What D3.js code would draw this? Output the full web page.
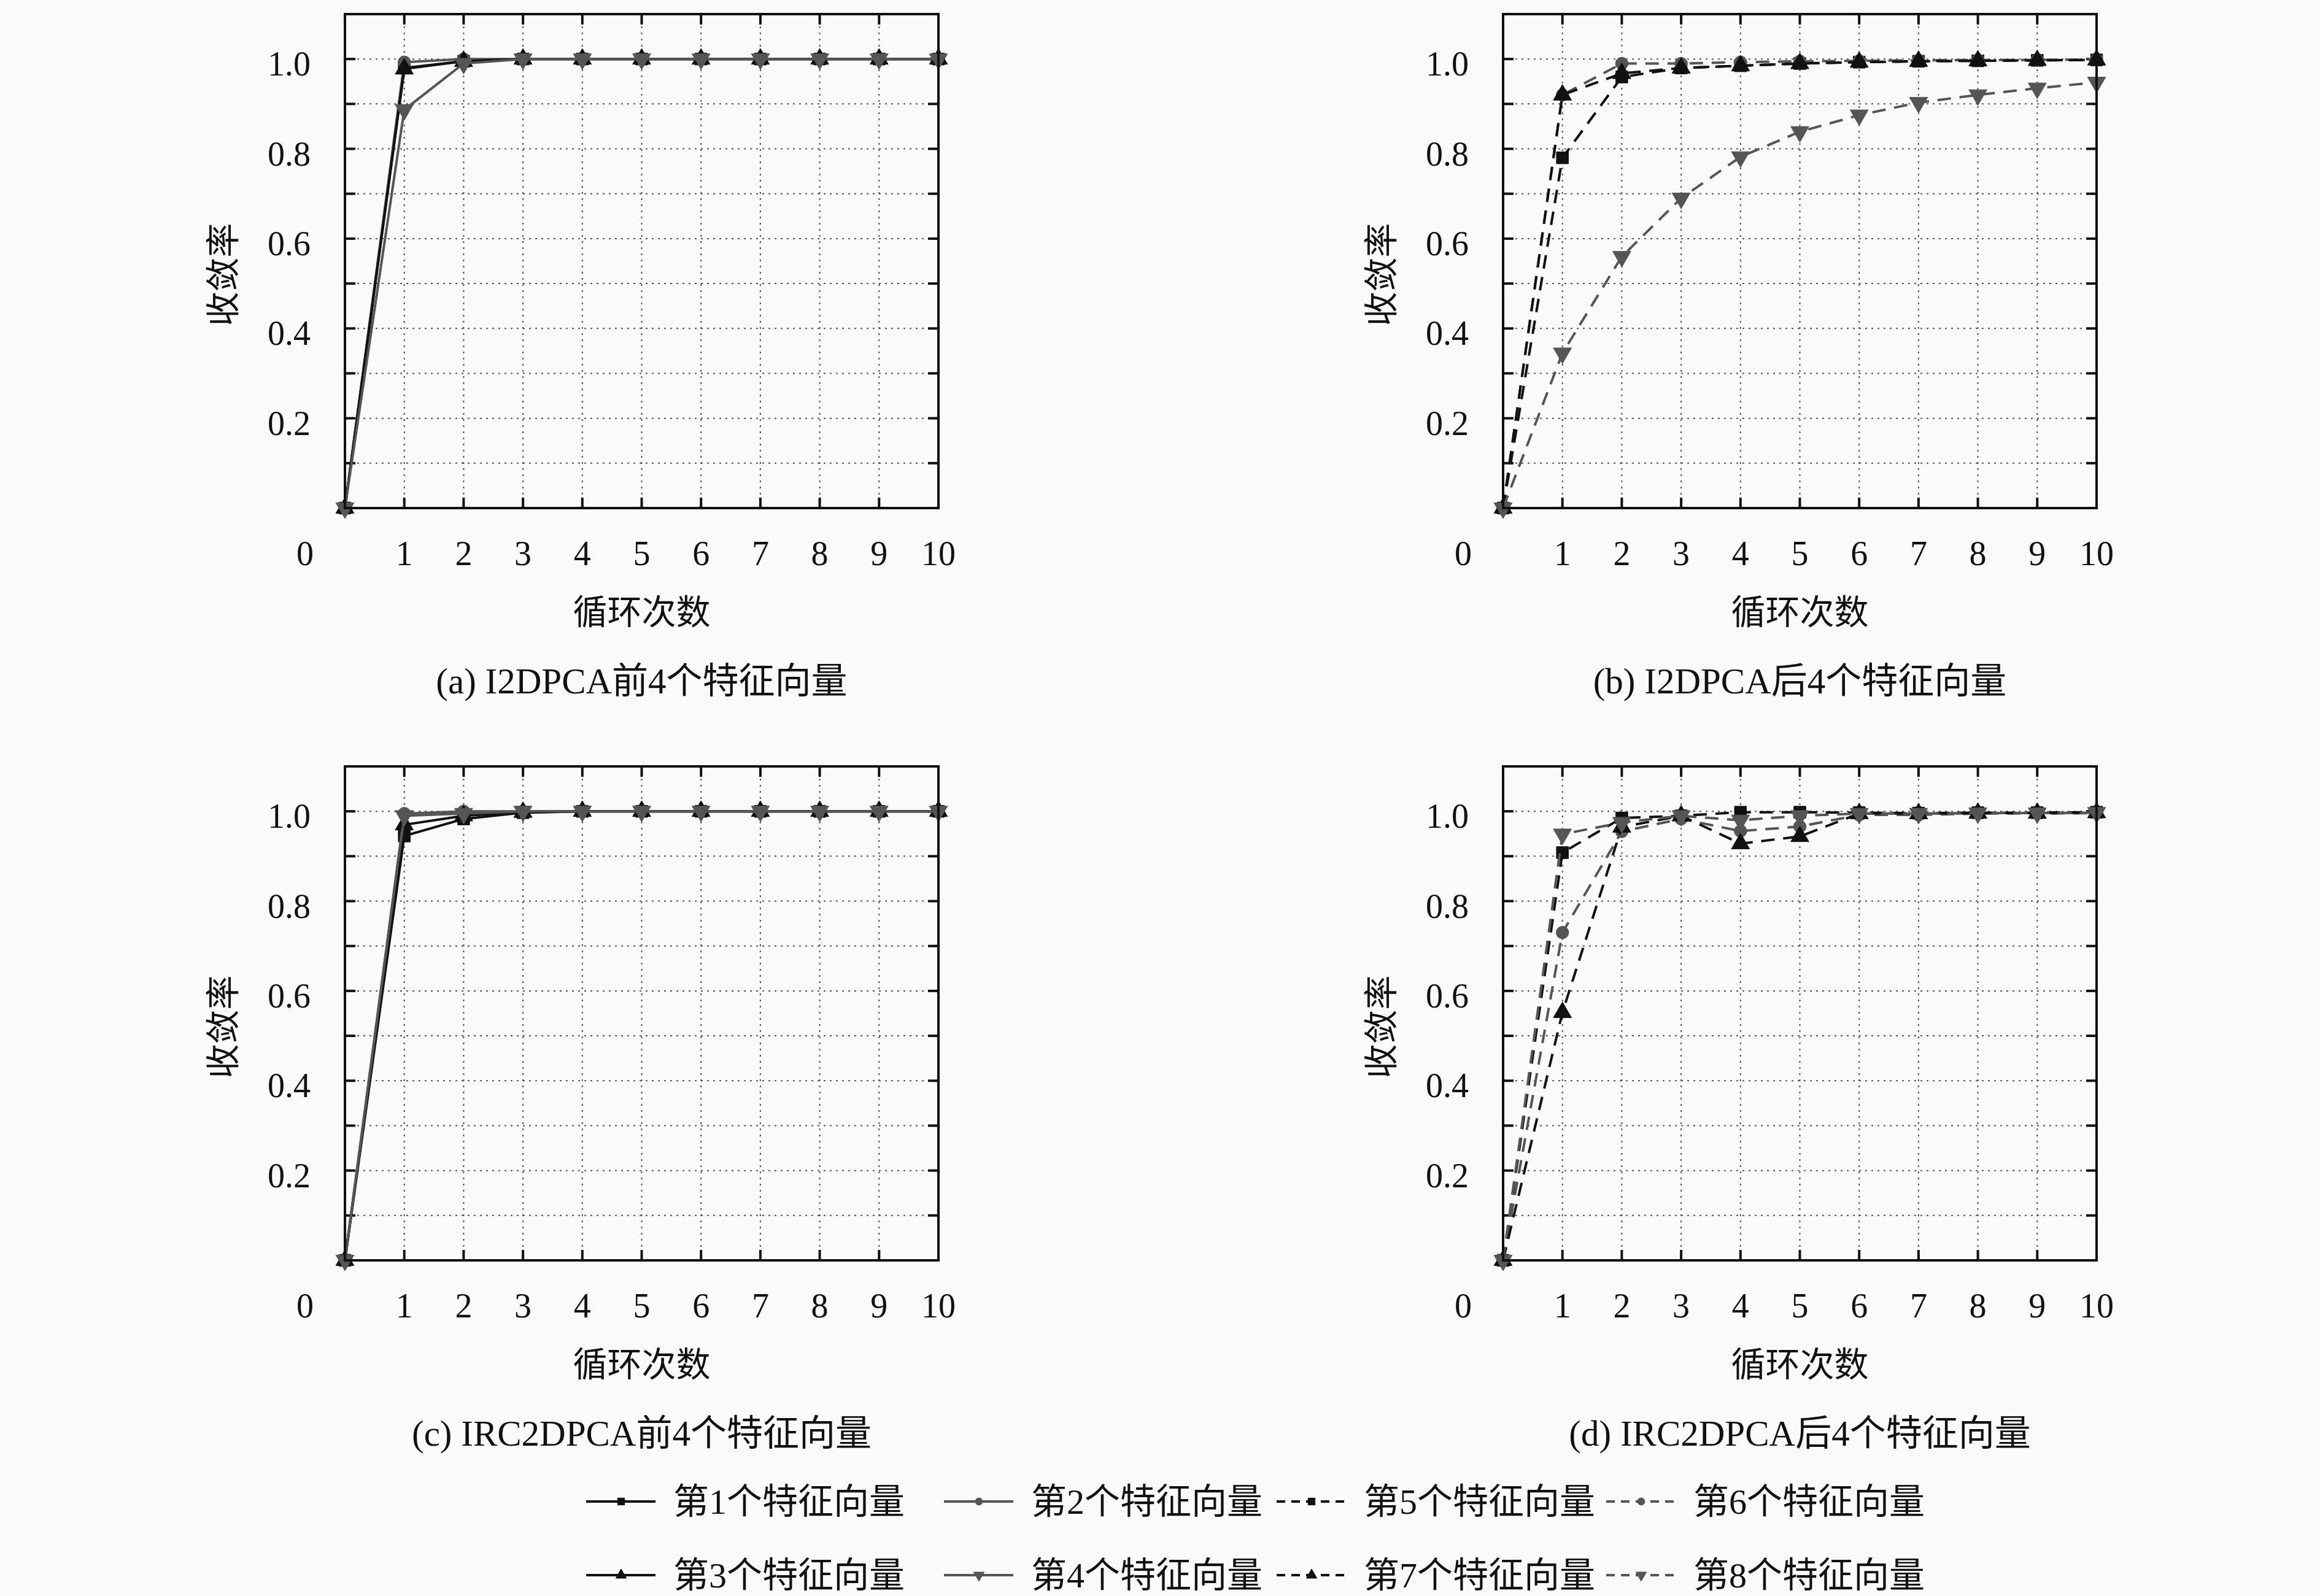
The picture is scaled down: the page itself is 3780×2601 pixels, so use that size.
<!DOCTYPE html>
<html>
<head>
<meta charset="utf-8">
<script src="https://cdn.jsdelivr.net/npm/d3@7"></script>
<style>
  body { margin: 0; background: #fafafa; }
  text { font-family: "Liberation Serif", "Noto Sans CJK SC", serif; fill: #111; }
</style>
</head>
<body>
<script>
// x values (循环次数)
var iterations = [0, 1, 2, 3, 4, 5, 6, 7, 8, 9, 10];
var xTickValues = [1, 2, 3, 4, 5, 6, 7, 8, 9, 10];
var yTickLabels = [0.2, 0.4, 0.6, 0.8, 1.0];
var yMinorTicks = [0.1, 0.2, 0.3, 0.4, 0.5, 0.6, 0.7, 0.8, 0.9, 1.0];

var seriesNames = ["第1个特征向量", "第2个特征向量", "第3个特征向量", "第4个特征向量",
                   "第5个特征向量", "第6个特征向量", "第7个特征向量", "第8个特征向量"];

var captions = ["(a) I2DPCA前4个特征向量", "(b) I2DPCA后4个特征向量",
                "(c) IRC2DPCA前4个特征向量", "(d) IRC2DPCA后4个特征向量"];

// (a) I2DPCA, first 4
var a1 = [0, 0.980, 0.995, 1.000, 1.000, 1.000, 1.000, 1.000, 1.000, 1.000, 1.000];
var a2 = [0, 0.993, 1.000, 1.000, 1.000, 1.000, 1.000, 1.000, 1.000, 1.000, 1.000];
var a3 = [0, 0.978, 0.995, 1.000, 1.000, 1.000, 1.000, 1.000, 1.000, 1.000, 1.000];
var a4 = [0, 0.887, 0.990, 1.000, 1.000, 1.000, 1.000, 1.000, 1.000, 1.000, 1.000];

// (b) I2DPCA, last 4
var b5 = [0, 0.780, 0.960, 0.980, 0.985, 0.990, 0.993, 0.995, 0.996, 0.997, 0.998];
var b6 = [0, 0.920, 0.990, 0.990, 0.993, 0.995, 0.996, 0.997, 0.998, 0.998, 0.999];
var b7 = [0, 0.920, 0.968, 0.980, 0.985, 0.990, 0.993, 0.995, 0.996, 0.997, 0.998];
var b8 = [0, 0.345, 0.560, 0.690, 0.782, 0.838, 0.875, 0.903, 0.920, 0.935, 0.948];

// (c) IRC2DPCA, first 4
var c1 = [0, 0.945, 0.983, 0.997, 1.000, 1.000, 1.000, 1.000, 1.000, 1.000, 1.000];
var c2 = [0, 0.995, 1.000, 1.000, 1.000, 1.000, 1.000, 1.000, 1.000, 1.000, 1.000];
var c3 = [0, 0.970, 0.990, 0.998, 1.000, 1.000, 1.000, 1.000, 1.000, 1.000, 1.000];
var c4 = [0, 0.990, 0.995, 1.000, 1.000, 1.000, 1.000, 1.000, 1.000, 1.000, 1.000];

// (d) IRC2DPCA, last 4
var d5 = [0, 0.908, 0.985, 0.990, 0.998, 0.998, 0.997, 0.996, 0.997, 0.997, 0.998];
var d6 = [0, 0.730, 0.955, 0.983, 0.956, 0.966, 0.992, 0.992, 0.995, 0.995, 0.996];
var d7 = [0, 0.552, 0.965, 0.990, 0.928, 0.944, 0.995, 0.995, 0.996, 0.996, 0.997];
var d8 = [0, 0.949, 0.975, 0.990, 0.980, 0.990, 0.995, 0.995, 0.996, 0.996, 0.997];

// style per series index (0..7)
var black = "#111", gray = "#555";
var styles = [
  {color: black, shape: "square", dash: null},
  {color: gray,  shape: "circle", dash: null},
  {color: black, shape: "up",     dash: null},
  {color: gray,  shape: "down",   dash: null},
  {color: black, shape: "square", dash: "22,14"},
  {color: gray,  shape: "circle", dash: "22,14"},
  {color: black, shape: "up",     dash: "22,14"},
  {color: gray,  shape: "down",   dash: "22,14"}
];

var panels = [
  {left: 562,  top: 23,   series: [a1, a2, a3, a4], first: 0, caption: captions[0]},
  {left: 2449, top: 23,   series: [b5, b6, b7, b8], first: 4, caption: captions[1]},
  {left: 562,  top: 1249, series: [c1, c2, c3, c4], first: 0, caption: captions[2]},
  {left: 2449, top: 1249, series: [d5, d6, d7, d8], first: 4, caption: captions[3]}
];

var W = 3780, H = 2601, pw = 967, ph = 805, fs = 56;

var svg = d3.select("body").append("svg")
  .attr("width", W).attr("height", H);

svg.append("rect").attr("width", W).attr("height", H).attr("fill", "#fafafa");

function symbolPath(shape, size) {
  var type = shape === "square" ? d3.symbolSquare : shape === "circle" ? d3.symbolCircle : d3.symbolTriangle;
  return d3.symbol().type(type).size(size)();
}

function drawMarker(g, shape, color, x, y, size) {
  g.append("path")
    .attr("d", symbolPath(shape, size))
    .attr("transform", "translate(" + x + "," + y + ")" + (shape === "down" ? " rotate(180)" : ""))
    .attr("fill", color)
    .attr("stroke", color)
    .attr("stroke-width", 1);
}

panels.forEach(function (p) {
  var g = svg.append("g").attr("transform", "translate(" + p.left + "," + p.top + ")");
  var x = d3.scaleLinear().domain([0, 10]).range([0, pw]);
  var y = d3.scaleLinear().domain([0, 1.1]).range([ph, 0]);

  // dotted grid
  g.selectAll("line.vgrid").data(xTickValues.slice(0, 9)).enter().append("line")
    .attr("x1", function (d) { return x(d); }).attr("x2", function (d) { return x(d); })
    .attr("y1", 0).attr("y2", ph)
    .attr("stroke", "#555").attr("stroke-width", 2).attr("stroke-dasharray", "3,7");
  g.selectAll("line.hgrid").data(yMinorTicks).enter().append("line")
    .attr("y1", function (d) { return y(d); }).attr("y2", function (d) { return y(d); })
    .attr("x1", 0).attr("x2", pw)
    .attr("stroke", "#555").attr("stroke-width", 2).attr("stroke-dasharray", "3,7");

  // inner tick marks on all four sides
  var tl = 17;
  g.selectAll("line.yt").data(yMinorTicks).enter().append("line")
    .attr("x1", 0).attr("x2", tl)
    .attr("y1", function (d) { return y(d); }).attr("y2", function (d) { return y(d); })
    .attr("stroke", black).attr("stroke-width", 4);
  g.selectAll("line.yt2").data(yMinorTicks).enter().append("line")
    .attr("x1", pw - tl).attr("x2", pw)
    .attr("y1", function (d) { return y(d); }).attr("y2", function (d) { return y(d); })
    .attr("stroke", black).attr("stroke-width", 4);
  g.selectAll("line.xt").data(xTickValues.slice(0, 9)).enter().append("line")
    .attr("x1", function (d) { return x(d); }).attr("x2", function (d) { return x(d); })
    .attr("y1", ph - tl).attr("y2", ph)
    .attr("stroke", black).attr("stroke-width", 4);
  g.selectAll("line.xt2").data(xTickValues.slice(0, 9)).enter().append("line")
    .attr("x1", function (d) { return x(d); }).attr("x2", function (d) { return x(d); })
    .attr("y1", 0).attr("y2", tl)
    .attr("stroke", black).attr("stroke-width", 4);

  // series
  p.series.forEach(function (vals, i) {
    var st = styles[p.first + i];
    var pts = iterations.map(function (it, k) { return [x(it), y(vals[k])]; });
    g.append("path")
      .attr("d", d3.line()(pts))
      .attr("fill", "none")
      .attr("stroke", st.color)
      .attr("stroke-width", 4)
      .attr("stroke-dasharray", st.dash);
    pts.forEach(function (pt) {
      drawMarker(g, st.shape, st.color, pt[0], pt[1], st.shape === "circle" ? 330 : 380);
    });
  });

  // frame
  g.append("rect").attr("width", pw).attr("height", ph)
    .attr("fill", "none").attr("stroke", black).attr("stroke-width", 4);

  // tick labels
  g.selectAll("text.xl").data(xTickValues).enter().append("text")
    .attr("x", function (d) { return x(d); }).attr("y", ph + 74)
    .attr("text-anchor", "middle").attr("dominant-baseline", "central")
    .attr("font-size", fs).text(function (d) { return d; });
  g.append("text").attr("x", -65).attr("y", ph + 74)
    .attr("text-anchor", "middle").attr("dominant-baseline", "central")
    .attr("font-size", fs).text("0");
  g.selectAll("text.yl").data(yTickLabels).enter().append("text")
    .attr("x", -56).attr("y", function (d) { return y(d) + 8; })
    .attr("text-anchor", "end").attr("dominant-baseline", "central")
    .attr("font-size", fs).text(function (d) { return d3.format(".1f")(d); });

  // axis titles and caption
  g.append("text")
    .attr("transform", "translate(-198," + (ph / 2 + 22) + ") rotate(-90)")
    .attr("text-anchor", "middle").attr("dominant-baseline", "central")
    .attr("font-size", fs).text("收敛率");
  g.append("text").attr("x", pw / 2).attr("y", ph + 170)
    .attr("text-anchor", "middle").attr("dominant-baseline", "central")
    .attr("font-size", fs).text("循环次数");
  g.append("text").attr("x", pw / 2).attr("y", ph + 282)
    .attr("text-anchor", "middle").attr("dominant-baseline", "central")
    .attr("font-size", 59).text(p.caption);
});

// legend: two rows, four columns
var legendOrder = [0, 1, 4, 5, 2, 3, 6, 7];
var colX = [955, 1538, 2080, 2617];
var rowY = [2447, 2567];
var leg = svg.append("g");
legendOrder.forEach(function (si, k) {
  var st = styles[si];
  var lx = colX[k % 4], ly = rowY[Math.floor(k / 4)];
  leg.append("line")
    .attr("x1", lx).attr("x2", lx + 113).attr("y1", ly).attr("y2", ly)
    .attr("stroke", st.color).attr("stroke-width", 4)
    .attr("stroke-dasharray", st.dash ? "14,10" : null);
  drawMarker(leg, st.shape, st.color, lx + 57, ly, st.shape === "circle" ? 110 : 130);
  leg.append("text")
    .attr("x", lx + 142).attr("y", ly)
    .attr("dominant-baseline", "central")
    .attr("font-size", 58).text(seriesNames[si]);
});
</script>
</body>
</html>
